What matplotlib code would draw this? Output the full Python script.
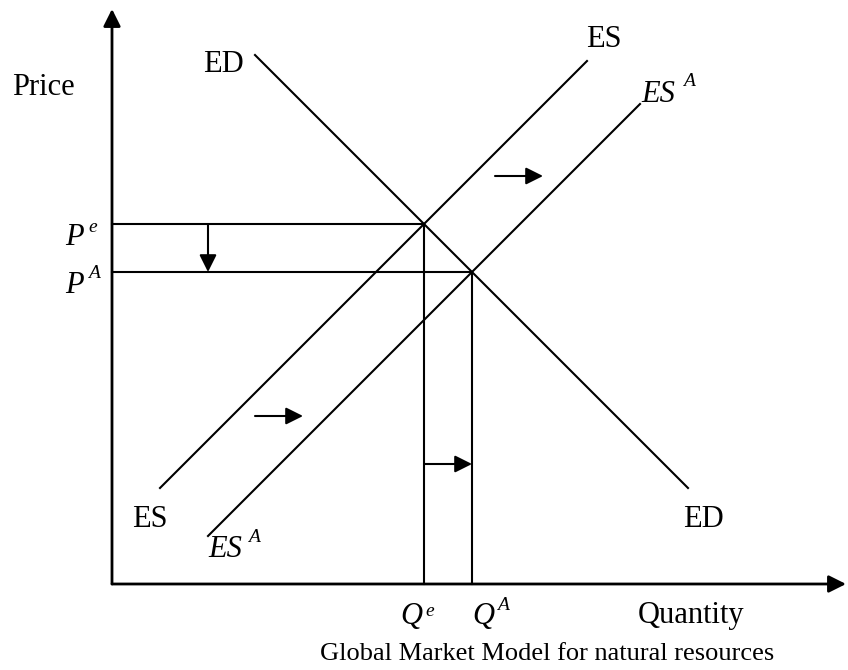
import matplotlib
matplotlib.use("Agg")
from matplotlib import pyplot as plt

plt.rcParams['font.family'] = ['Liberation Serif', 'DejaVu Serif']

# schematic model, units measured from the origin of the axes
q_max, p_max = 734, 575
q_eq, p_eq = 312, 360        # Q^e, P^e
q_new, p_new = 360, 312      # Q^A, P^A

ed_q = [143, 576]
ed_p = [529, 96]
es_q = [48, 475]
es_p = [96, 523]
esa_q = [96, 528]
esa_p = [48, 480]

# shift arrows: (start q, start p, end q, end p)
shifts = [
    (383, 408, 431, 408),
    (143, 168, 191, 168),
    (312, 120, 360, 120),
    (96, 360, 96, 312),
]

fig = plt.figure(figsize=(8.48, 6.70), dpi=100)
ax = fig.add_axes([0, 0, 1, 1])
ax.set_xlim(-112, 736)
ax.set_ylim(-86, 584)
ax.axis('off')

lw = 1.5
# axes with arrow heads
for tip in [(q_max, 0), (0, p_max)]:
    ax.annotate('', xy=tip, xytext=(0, 0),
                arrowprops=dict(arrowstyle='-|>', lw=2, color='black',
                                mutation_scale=26, shrinkA=0, shrinkB=0))

ax.plot(ed_q, ed_p, color='black', lw=lw)
ax.plot(es_q, es_p, color='black', lw=lw)
ax.plot(esa_q, esa_p, color='black', lw=lw)

# equilibrium guide lines
ax.plot([0, q_eq], [p_eq, p_eq], color='black', lw=lw)
ax.plot([0, q_new], [p_new, p_new], color='black', lw=lw)
ax.plot([q_eq, q_eq], [0, p_eq], color='black', lw=lw)
ax.plot([q_new, q_new], [0, p_new], color='black', lw=lw)

for x0, y0, x1, y1 in shifts:
    ax.annotate('', xy=(x1, y1), xytext=(x0, y0),
                arrowprops=dict(arrowstyle='-|>', lw=lw, color='black',
                                mutation_scale=26, shrinkA=0, shrinkB=0))

fs = 22
sub_fs = 14


def label(x, y, s, italic=False):
    ax.text(x, y, s, fontsize=fs, va='baseline', ha='left',
            style='italic' if italic else 'normal')


def sup_label(x, y, base, sup, sx, sy):
    ax.text(x, y, base, fontsize=fs, va='baseline', ha='left', style='italic')
    ax.text(sx, sy, sup, fontsize=sub_fs, va='baseline', ha='left',
            style='italic')


label(-100, 489, 'Price')
label(91, 512, 'ED')
label(474, 537, 'ES')
label(20, 57, 'ES')
label(571, 57, 'ED')
label(526, -39, 'Quantity')
sup_label(529, 482, 'ES', 'A', 571, 498)
sup_label(96, 27, 'ES', 'A', 136, 42)
sup_label(-47, 339, 'P', 'e', -24, 352)
sup_label(-47, 291, 'P', 'A', -24, 306)
sup_label(288, -40, 'Q', 'e', 313, -32)
sup_label(360, -40, 'Q', 'A', 385, -26)
ax.text(435, -76, 'Global Market Model for natural resources',
        fontsize=19, va='baseline', ha='center')

fig.savefig('out.png', dpi=100)
